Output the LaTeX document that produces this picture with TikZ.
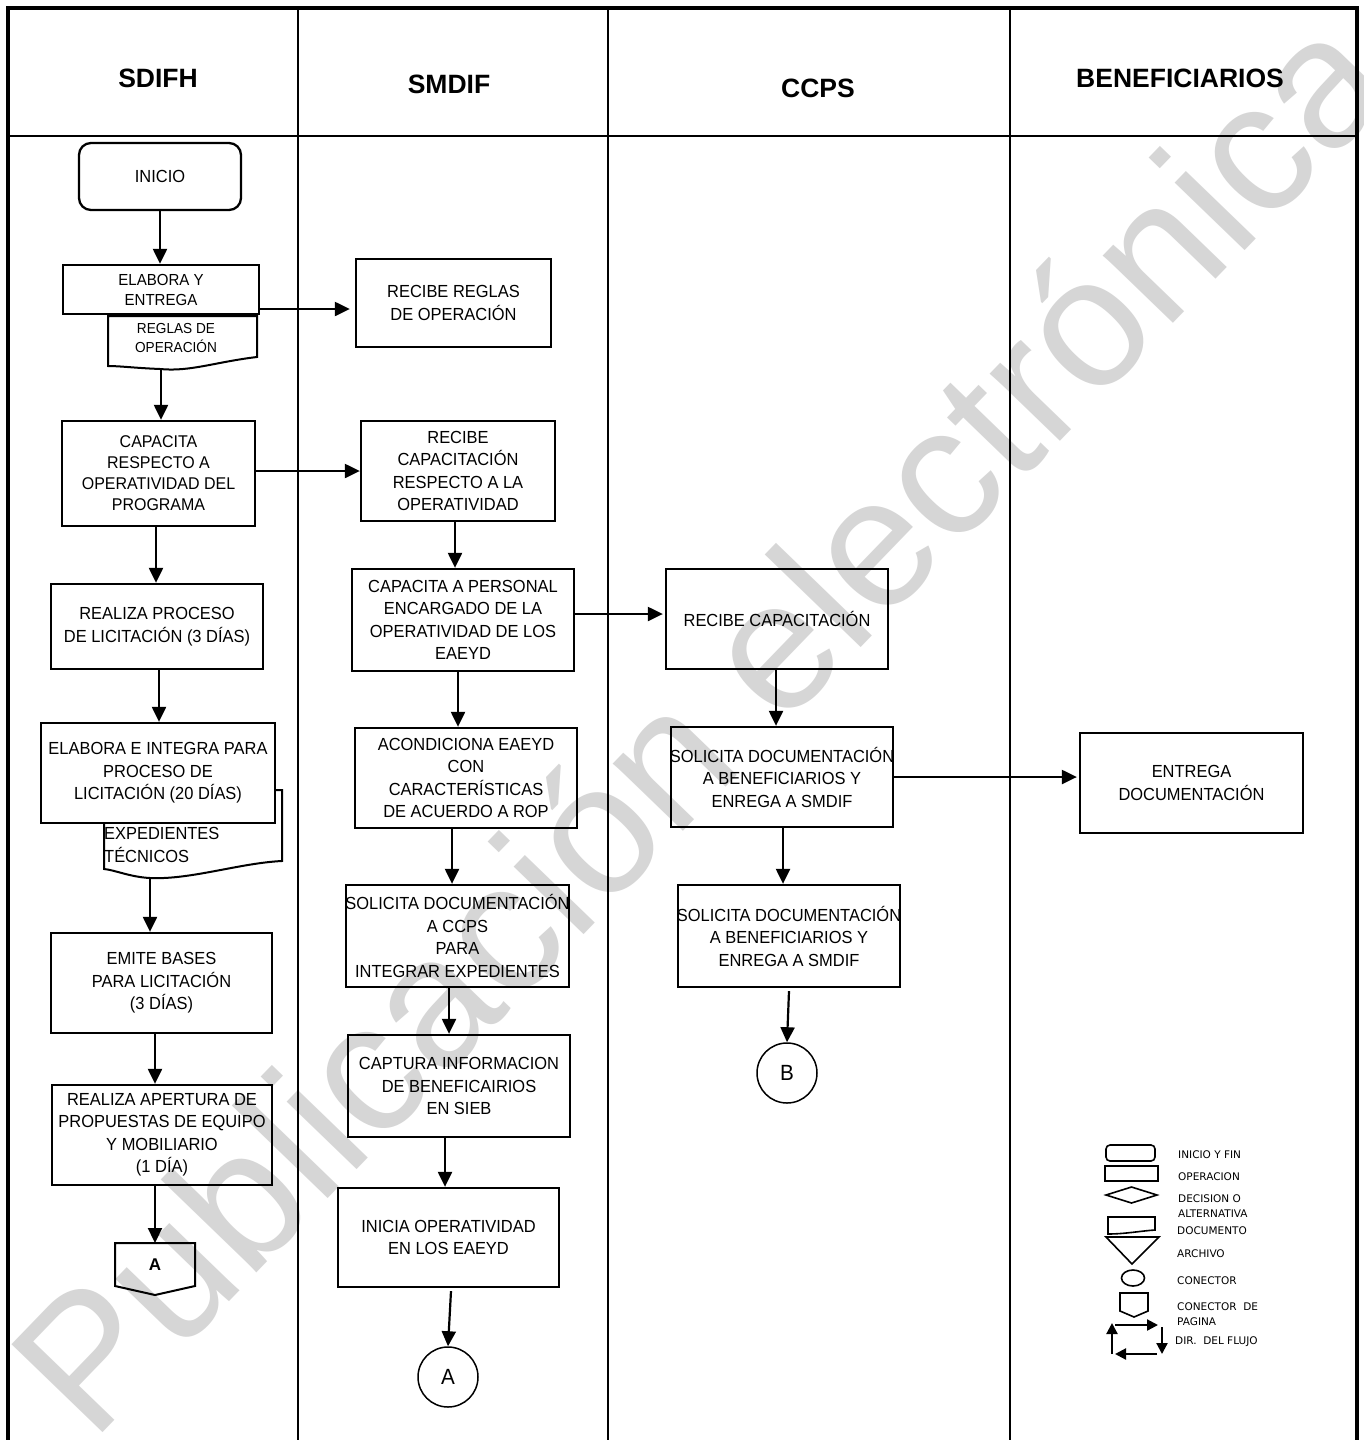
\documentclass[tikz,border=0pt]{standalone}
\usepackage{fontspec}
\setmainfont{Liberation Sans}[FakeStretch=0.94]
\newfontfamily\wmfont{Liberation Sans}
\newfontfamily\lgfont{DejaVu Sans}
\usetikzlibrary{arrows.meta,shapes.geometric}
\newcommand\ovfline[1]{\makebox[180pt][c]{#1}}
\begin{document}
\begin{tikzpicture}[x=1pt,y=-1pt,
  box/.style={draw, line width=2.3pt, rectangle, inner sep=0pt, align=center, font=\fontsize{17.5}{22.5}\selectfont},
  sz/.style 2 args={minimum width=#1, minimum height=#2},
  arr/.style={line width=2.2pt, -{Triangle[length=15pt,width=14pt]}},
  lane/.style={line width=2.5pt},
  hdr/.style={font=\wmfont\bfseries\fontsize{26.5}{26.5}\selectfont},
  lg/.style={line width=1.6pt},
  lgt/.style={font=\lgfont\fontsize{10.5}{15}\selectfont, anchor=west, inner sep=0pt, align=left},
  lgarr/.style={line width=2.2pt, -{Triangle[length=11pt,width=11pt]}},
  txt/.style={inner sep=0pt, align=center},
  conn/.style={draw, circle, line width=1.5pt, minimum size=60pt, inner sep=0pt, font=\fontsize{22}{22}\selectfont}
]
\useasboundingbox (0,0) rectangle (1364,1440);
\fill[white] (0,0) rectangle (1364,1440);

% ---- watermark (behind) ----
\node[rotate=46, text=black!16, inner sep=0pt, font=\wmfont\fontsize{184}{184}\selectfont] (wm) at (698,720) {Publicación electrónica};

% frame and lanes
\draw[line width=3.5pt] (8,1440) -- (8,8) -- (1357,8) -- (1357,1440);
\draw[lane] (8,136) -- (1357,136);
\draw[lane] (298,8) -- (298,1440);
\draw[lane] (608,8) -- (608,1440);
\draw[lane] (1010,8) -- (1010,1440);

% headers
\node[hdr] (h1) at (158,78) {SDIFH};
\node[hdr] (h2) at (449,84) {SMDIF};
\node[hdr] (h3) at (818,88) {CCPS};
\node[hdr] (h4) at (1180,78) {BENEFICIARIOS};

% ---- SDIFH lane ----
\node[box, sz={162pt}{67pt}, rounded corners=12pt] (ini) at (160,176.5) {INICIO};
\node[box, sz={196pt}{49pt}, font=\fontsize{16}{20}\selectfont] (ela) at (161,289.5) {ELABORA Y\\ENTREGA};
\draw[line width=2pt] (108,316) -- (257,316) -- (257,357) .. controls (215,362) and (190,372) .. (160,369) .. controls (135,368) and (120,366) .. (108,366) -- cycle;
\node[txt, font=\fontsize{14.5}{19}\selectfont] (reglas) at (176,338) {REGLAS DE\\OPERACIÓN};
\coordinate (reglasb) at (161,369);

\node[box, sz={193pt}{105pt}, font=\fontsize{17}{21}\selectfont] (cap1) at (158.5,473.5) {CAPACITA\\RESPECTO A\\OPERATIVIDAD DEL\\PROGRAMA};
\node[box, sz={212pt}{85pt}] (lic) at (157,626.5) {REALIZA PROCESO\\DE LICITACIÓN (3 DÍAS)};

\draw[line width=2pt] (104,790) -- (282,790) -- (282,861) .. controls (240,863) and (190,880) .. (150,878) .. controls (130,877) and (115,870) .. (104,869) -- cycle;
\node[txt, anchor=west, align=left, font=\fontsize{17.5}{22.5}\selectfont] (exped) at (104,845) {EXPEDIENTES\\TÉCNICOS};
\coordinate (expb) at (150,878);
\node[box, sz={234pt}{100pt}, fill=white] (eint) at (158,773) {ELABORA E INTEGRA PARA\\PROCESO DE\\LICITACIÓN (20 DÍAS)};

\node[box, sz={221pt}{100pt}] (eb) at (161.5,983) {EMITE BASES\\PARA LICITACIÓN\\(3 DÍAS)};
\node[box, sz={220pt}{100pt}] (ap) at (162,1135) {REALIZA APERTURA DE\\PROPUESTAS DE EQUIPO\\Y MOBILIARIO\\(1 DÍA)};

\draw[line width=2pt] (115,1243) -- (195,1243) -- (195,1286) -- (155,1295) -- (115,1286) -- cycle;
\coordinate (offtop) at (155,1243);
\node[txt, font=\wmfont\bfseries\fontsize{17}{17}\selectfont] (offA) at (155,1265) {A};

% ---- SMDIF lane ----
\node[box, sz={195pt}{88pt}] (rr) at (453.5,303) {RECIBE REGLAS\\DE OPERACIÓN};
\node[box, sz={194pt}{100pt}] (rc) at (458,471) {RECIBE\\CAPACITACIÓN\\RESPECTO A LA\\OPERATIVIDAD};
\node[box, sz={222pt}{102pt}] (cp) at (463,620) {CAPACITA A PERSONAL\\ENCARGADO DE LA\\OPERATIVIDAD DE LOS\\EAEYD};
\node[box, sz={222pt}{100pt}] (ac) at (466,778) {ACONDICIONA EAEYD\\CON\\CARACTERÍSTICAS\\DE ACUERDO A ROP};
\node[box, sz={223pt}{102pt}] (sd) at (457.5,936) {\ovfline{SOLICITA DOCUMENTACIÓN}\\A CCPS\\PARA\\INTEGRAR EXPEDIENTES};
\node[box, sz={222pt}{102pt}] (ct) at (459,1086) {CAPTURA INFORMACION\\DE BENEFICAIRIOS\\EN SIEB};
\node[box, sz={221pt}{99pt}] (io) at (448.5,1237.5) {INICIA OPERATIVIDAD\\EN LOS EAEYD};
\node[conn] (cA) at (448,1377) {A};

% ---- CCPS lane ----
\node[box, sz={222pt}{100pt}] (rc2) at (777,619) {RECIBE CAPACITACIÓN};
\node[box, sz={222pt}{100pt}] (sb1) at (782,777) {\ovfline{SOLICITA DOCUMENTACIÓN}\\A BENEFICIARIOS Y\\ENREGA A SMDIF};
\node[box, sz={222pt}{102pt}] (sb2) at (789,936) {\ovfline{SOLICITA DOCUMENTACIÓN}\\A BENEFICIARIOS Y\\ENREGA A SMDIF};
\node[conn] (cB) at (787,1073) {B};

% ---- BENEFICIARIOS lane ----
\node[box, sz={223pt}{100pt}] (ed) at (1191.5,783) {ENTREGA\\DOCUMENTACIÓN};

% ---- connectors ----
\draw[arr] (ini.south) -- (ini.south |- ela.north);
\draw[arr] ([yshift=-19.5pt]ela.east) -- ([yshift=-19.5pt,xshift=-5pt]ela.east -| rr.west);
\draw[arr] (reglasb) -- (reglasb |- cap1.north);
\draw[arr] (cap1.east |- rc.west) -- (rc.west);
\draw[arr] ([xshift=-2.5pt]cap1.south) -- ([xshift=-2.5pt]cap1.south |- lic.north);
\draw[arr] ([xshift=2pt]lic.south) -- ([xshift=2pt]lic.south |- eint.north);
\draw[arr] (expb) -- (expb |- eb.north);
\draw[arr] ([xshift=-6.5pt]eb.south) -- ([xshift=-6.5pt]eb.south |- ap.north);
\draw[arr] (ap.south -| offtop) -- (offtop);

\draw[arr] ([xshift=-3pt]rc.south) -- ([xshift=-3pt]rc.south |- cp.north);
\draw[arr] ([yshift=6pt]cp.east) -- ([yshift=6pt,xshift=-2pt]cp.east -| rc2.west);
\draw[arr] ([xshift=-5pt]cp.south) -- ([xshift=-5pt]cp.south |- ac.north);
\draw[arr] ([xshift=-14pt]ac.south) -- ([xshift=-14pt]ac.south |- sd.north);
\draw[arr] ([xshift=-8.5pt]sd.south) -- ([xshift=-8.5pt]sd.south |- ct.north);
\draw[arr] ([xshift=-14pt]ct.south) -- ([xshift=-14pt]ct.south |- io.north);
\draw[arr] ([xshift=2.5pt,yshift=-3pt]io.south) -- (cA.north);

\draw[arr] ([xshift=-1pt]rc2.south) -- ([xshift=-1pt]rc2.south |- sb1.north);
\draw[arr] (sb1.east) -- ([xshift=-2pt]sb1.east -| ed.west);
\draw[arr] ([xshift=1pt]sb1.south) -- ([xshift=1pt]sb1.south |- sb2.north);
\draw[arr] ([yshift=-3pt]sb2.south) -- (cB.north);

% ---- legend ----
\draw[lg, rounded corners=4pt] (1106,1145) rectangle (1155,1161);
\draw[lg] (1105,1166) rectangle (1158,1181);
\draw[lg] (1106,1195) -- (1131.5,1187) -- (1157,1195) -- (1131.5,1203) -- cycle;
\draw[lg] (1108,1217) -- (1155,1217) -- (1155,1230) .. controls (1140,1231) and (1125,1234) .. (1108,1234) -- cycle;
\draw[lg] (1106,1237) -- (1159,1237) -- (1132,1264) -- cycle;
\draw[lg] (1133,1278) ellipse [x radius=11.5pt, y radius=8pt];
\draw[lg] (1120,1293) -- (1148,1293) -- (1148,1311) -- (1134,1317) -- (1120,1311) -- cycle;
\draw[lgarr] (1115,1325) -- (1158,1325);
\draw[lgarr] (1162,1327) -- (1162,1354);
\draw[lgarr] (1157,1354) -- (1115,1354);
\draw[lgarr] (1112,1354) -- (1112,1323);
\node[lgt] (l1) at (1178,1155) {INICIO Y FIN};
\node[lgt] (l2) at (1178,1177) {OPERACION};
\node[lgt] (l3) at (1178,1206) {DECISION O\\ALTERNATIVA};
\node[lgt] (l4) at (1177,1231) {DOCUMENTO};
\node[lgt] (l5) at (1177,1254) {ARCHIVO};
\node[lgt] (l6) at (1177,1281) {CONECTOR};
\node[lgt] (l7) at (1177,1314) {CONECTOR\ \ DE\\PAGINA};
\node[lgt] (l8) at (1175,1342) {DIR.\ \ DEL FLUJO};
\end{tikzpicture}
\end{document}
